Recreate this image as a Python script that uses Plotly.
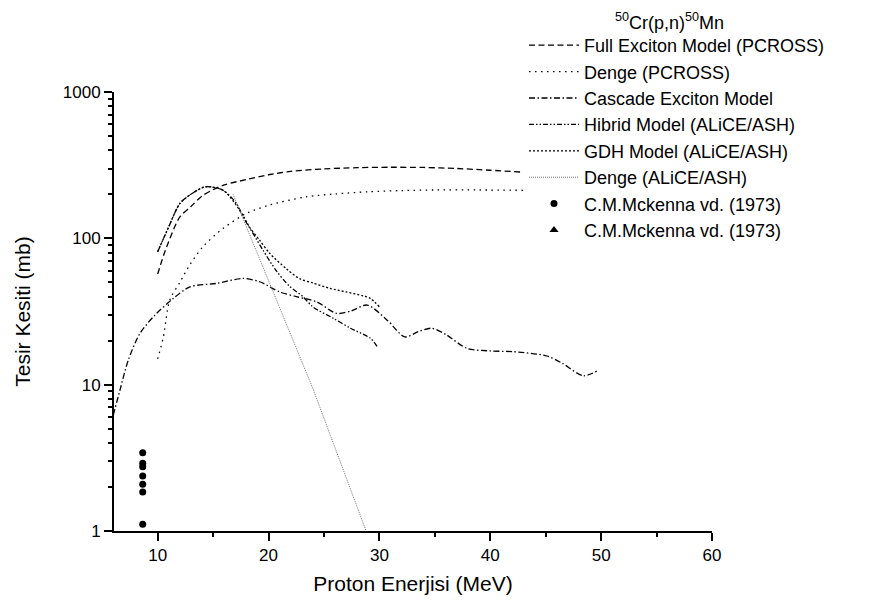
import plotly.graph_objects as go

# Full Exciton Model (PCROSS)
fem_e = [10.0, 10.7, 12.0, 13.0, 14.0, 15.0, 16.0, 18.0, 20.0, 22.0, 25.0, 28.0, 31.0, 34.0, 37.0, 40.0, 43.0]
fem_s = [57, 83, 140, 165, 195, 215, 232, 252, 272, 287, 298, 304, 306, 305, 300, 292, 283]

# Denge (PCROSS)
dp_e = [10.0, 10.5, 11.1, 12.0, 12.9, 14.1, 15.9, 18.0, 20.1, 23.4, 26.0, 29.0, 32.0, 35.0, 39.0, 43.0]
dp_s = [15, 21, 38, 50, 66, 88, 117, 148, 169, 192, 201, 208, 212, 214, 214, 213]

# Cascade Exciton Model
cem_e = [6.0, 6.6, 7.35, 8.4, 9.76, 11.4, 12.9, 15.3, 17.7, 19.2, 21.0, 22.5, 24.35, 26.15, 27.5, 28.9,
         30.7, 32.3, 33.5, 34.7, 36.0, 37.9, 40.0, 42.1, 45.1, 46.5, 48.4, 49.8]
cem_s = [6.2, 9.2, 14.7, 22.4, 29.9, 38.8, 46.6, 49.2, 53.2, 50.5, 43, 40, 36.8, 30.7, 32, 35,
         27.6, 21.2, 23, 24.3, 22, 17.7, 17, 16.8, 15.7, 14, 11.5, 12.6]

# Hibrid Model (ALiCE/ASH)
hib_e = [10.0, 11.0, 12.0, 13.0, 14.3, 15.9, 17.1, 17.7, 18.6, 19.5, 20.7, 21.9, 23.1, 24.0, 25.85, 27.4, 29.2, 29.8]
hib_s = [81, 120, 173, 200, 225, 213, 173, 140, 108, 83, 60, 47, 40, 34, 28.4, 24.3, 20.7, 18.2]

# GDH Model (ALiCE/ASH)
gdh_e = [10.0, 11.0, 12.0, 13.0, 14.3, 15.9, 17.4, 18.3, 19.2, 20.1, 21.6, 22.8, 24.0, 25.55, 27.0, 28.5, 29.2, 30.0]
gdh_s = [81, 120, 173, 200, 225, 213, 156, 119, 97, 79, 62, 53, 49.5, 45.5, 43, 40.5, 38.8, 34]

# Denge (ALiCE/ASH)
da_e = [16.8, 21.0, 24.0, 28.8]
da_s = [200, 33, 9.4, 1.0]

# C.M.Mckenna vd. (1973)
exp_e = [8.65, 8.65, 8.65, 8.65, 8.65, 8.65, 8.65]
exp_s = [3.43, 2.90, 2.75, 2.38, 2.09, 1.85, 1.11]
# second data set: no points inside the plotted range
exp2_e = [None]
exp2_s = [None]

FONT = "Arial, Liberation Sans, sans-serif"

# plot area in pixels
L, R, T, B = 114, 712, 92, 531
W, H = 874, 605

fig = go.Figure()


def curve(x, y, name, dash, color="black", width=1.3, shape="spline"):
    fig.add_trace(go.Scatter(
        x=x, y=y, mode="lines", name=name,
        line=dict(color=color, width=width, dash=dash, shape=shape, smoothing=0.8),
    ))


curve(fem_e, fem_s, "Full Exciton Model (PCROSS)", "6px,3.5px")
curve(dp_e, dp_s, "Denge (PCROSS)", "1.5px,4.5px")
curve(cem_e, cem_s, "Cascade Exciton Model", "6px,2.5px,1.5px,2.5px")
curve(hib_e, hib_s, "Hibrid Model (ALiCE/ASH)", "5px,2px,1.5px,2px,1.5px,2px")
curve(gdh_e, gdh_s, "GDH Model (ALiCE/ASH)", "2px,2px")
curve(da_e, da_s, "Denge (ALiCE/ASH)", "1px,1px", color="#777777", width=1, shape="linear")

fig.add_trace(go.Scatter(
    x=exp_e, y=exp_s, mode="markers", name="C.M.Mckenna vd. (1973)",
    marker=dict(symbol="circle", size=7, color="black"),
))
fig.add_trace(go.Scatter(
    x=exp2_e, y=exp2_s, mode="markers", name="C.M.Mckenna vd. (1973)",
    marker=dict(symbol="triangle-up", size=8, color="black"),
))

fig.add_annotation(
    text="<sup>50</sup>Cr(p,n)<sup>50</sup>Mn", xref="paper", yref="paper",
    x=(613 - L) / (R - L), y=(B - 21) / (B - T), xanchor="left", yanchor="middle",
    showarrow=False, font=dict(family=FONT, size=18, color="black"),
)

fig.update_layout(
    width=W, height=H,
    margin=dict(l=L, r=W - R, t=T, b=H - B, pad=0, autoexpand=False),
    paper_bgcolor="white", plot_bgcolor="white",
    font=dict(family=FONT, size=17, color="black"),
    showlegend=True,
    legend=dict(
        xref="paper", yref="paper",
        x=(524 - L) / (R - L), y=(B - 27) / (B - T), xanchor="left", yanchor="top",
        bgcolor="rgba(0,0,0,0)", borderwidth=0,
        font=dict(family=FONT, size=18, color="black"),
        itemwidth=50, traceorder="normal",
    ),
    xaxis=dict(
        range=[6.06, 60], tick0=0, dtick=10, automargin=False,
        showline=True, linecolor="black", linewidth=2, mirror=False,
        ticks="outside", ticklen=8, tickwidth=1.5, tickcolor="black",
        showgrid=False, zeroline=False,
        minor=dict(ticks="outside", ticklen=4, tickwidth=1.5, tickcolor="black", dtick=5, showgrid=False),
        tickfont=dict(family=FONT, size=17),
        title=dict(text="Proton Enerjisi (MeV)", font=dict(family=FONT, size=21), standoff=12),
    ),
    yaxis=dict(
        type="log", range=[0, 3], automargin=False,
        tickvals=[1, 10, 100, 1000], ticktext=["1", "10", "100", "1000"],
        showline=True, linecolor="black", linewidth=2, mirror=False,
        ticks="outside", ticklen=8, tickwidth=1.5, tickcolor="black",
        showgrid=False, zeroline=False,
        minor=dict(ticks="outside", ticklen=4, tickwidth=1.5, tickcolor="black", dtick="D1", showgrid=False),
        tickfont=dict(family=FONT, size=17),
        title=dict(text="Tesir Kesiti (mb)", font=dict(family=FONT, size=21), standoff=26),
    ),
)

fig.write_html("out.html")
